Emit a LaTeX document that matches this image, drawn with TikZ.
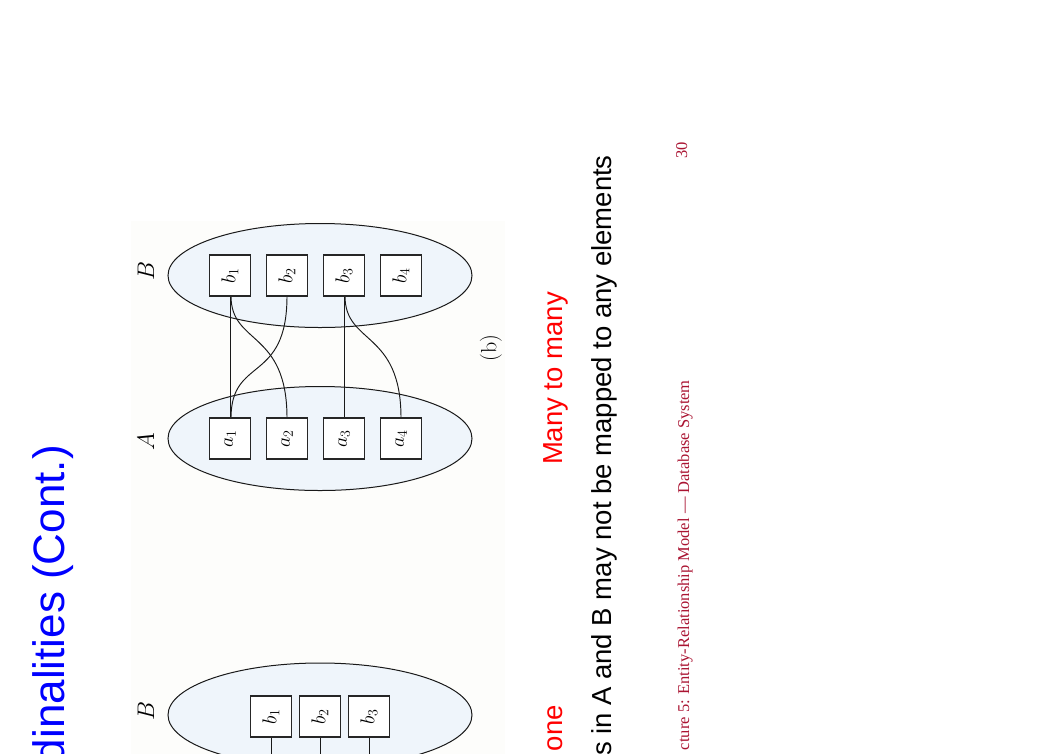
\RequirePackage{fix-cm}
\documentclass[tikz,border=0pt]{standalone}
\usepackage{graphicx}
\usepackage{fontspec}
\newfontfamily\arialfont{Liberation Sans}
\newfontfamily\timesfont{Liberation Serif}
\usetikzlibrary{shapes.geometric}
\definecolor{setblue}{RGB}{239,245,251}
\definecolor{paper}{RGB}{253,253,251}
\definecolor{titleblue}{RGB}{0,0,255}
\definecolor{footred}{RGB}{170,20,50}
\begin{document}
\begin{tikzpicture}[x=1pt,y=-1pt,
  setshape/.style={ellipse, draw=black!90, fill=setblue, line width=1pt, minimum width=304pt, minimum height=104pt, inner sep=0pt},
  elem/.style={draw=black!85, fill=white, line width=1.1pt, minimum size=41pt, inner sep=0pt, font=\fontsize{20}{22}\selectfont},
  link/.style={draw=black!90, line width=0.95pt},
  setlabel/.style={rotate=90, inner sep=0pt, font=\fontsize{24}{26}\selectfont},
  slidetext/.style={rotate=90, anchor=base east, inner sep=0pt, font=\arialfont\fontsize{27.5}{30}\selectfont},
  foot/.style={rotate=90, anchor=base east, inner sep=0pt, text=footred, font=\timesfont\fontsize{16.5}{18}\selectfont}]
\useasboundingbox (0,0) rectangle (1054,753);
\clip (0,0) rectangle (1054,753);
\fill[white] (0,0) rectangle (1054,753);
\fill[paper] (131,221) rectangle (505,760);

% title
\node[rotate=90, anchor=base east, inner sep=0pt, text=titleblue, font=\arialfont\fontsize{44}{48}\selectfont] (title) at (64,445) {dinalities (Cont.)};

% figure (b)
\node[setshape] (setB) at (320,275.5) {};
\node[setshape] (setA) at (320,438.5) {};
\node[setlabel] (labB) at (146,271) {$B$};
\node[setlabel] (labA) at (146,442) {$A$};
\node[setlabel, font=\fontsize{22}{24}\selectfont] (capb) at (491,348) {(b)};

\draw[link] (230,296) -- (230,418);
\draw[link] (344,296) -- (344,418);
\draw[link] (231,296) .. controls (231,345) and (287,330) .. (287,418);
\draw[link] (287,296) .. controls (287,384) and (231,356) .. (231,418);
\draw[link] (345,296) .. controls (345,345) and (401,330) .. (401,418);

\foreach \i/\x in {1/230,2/287,3/344,4/401}{
  \node[elem] (b\i) at (\x,275.5) {\rotatebox{90}{$b_{\i}$}};
  \node[elem] (a\i) at (\x,438.5) {\rotatebox{90}{$a_{\i}$}};
}

% figure (a), partly visible
\node[setshape] (setB2) at (320,715) {};
\node[setlabel] (labB2) at (146,711) {$B$};
\foreach \i/\x in {1/271,2/320,3/369}{
  \coordinate (d\i) at (\x,790);
  \node[elem] (c\i) at (\x,716.5) {\rotatebox{90}{$b_{\i}$}};
  \draw[link] (c\i.south) -- (d\i);
}

% slide texts
\node[slidetext, text=red] (mm) at (562,292) {Many to many};
\node[slidetext, text=red] (one) at (562,705) {one};
\node[slidetext] (body) at (611.5,155) {s in A and B may not be mapped to any elements};
\node[foot] (footer) at (689,380) {cture 5: Entity-Relationship Model — Database System};
\node[foot] (pageno) at (687,142) {30};
\end{tikzpicture}
\end{document}
